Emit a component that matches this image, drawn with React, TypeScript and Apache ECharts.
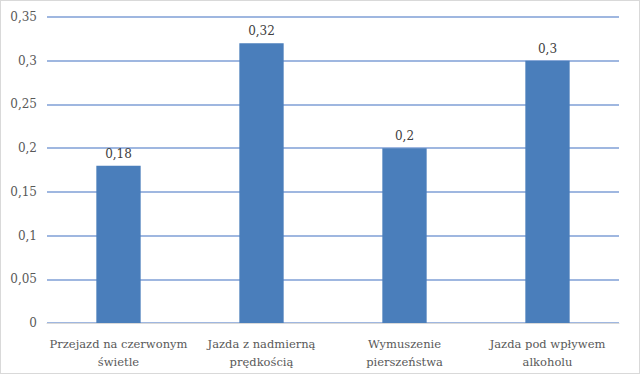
import React, { useEffect, useRef } from "react";
import * as echarts from "echarts";

const categories = ["Przejazd na czerwonym\nświetle", "Jazda z nadmierną\nprędkością", "Wymuszenie\npierszeństwa", "Jazda pod wpływem\nalkoholu"];
const values = [0.18, 0.32, 0.2, 0.3];

const fmt = (v: number) => String(v).replace(".", ",");
const FONT = "DejaVu Serif";

export default function App() {
  const ref = useRef<HTMLDivElement>(null);
  useEffect(() => {
    const chart = echarts.init(ref.current!, null, { renderer: "svg" });
    chart.setOption({
      animation: false,
      backgroundColor: "#ffffff",
      textStyle: { fontFamily: FONT },
      grid: { left: 46, right: 20, top: 16, bottom: 50, containLabel: false },
      xAxis: {
        type: "category",
        data: categories,
        axisTick: { show: false },
        axisLine: { lineStyle: { color: "#d9d9d9", width: 1 } },
        axisLabel: { color: "#595959", fontSize: 11.5, fontFamily: FONT, margin: 12, lineHeight: 18, interval: 0 },
      },
      yAxis: {
        type: "value",
        min: 0,
        max: 0.35,
        interval: 0.05,
        axisLine: { show: false },
        axisTick: { show: false },
        axisLabel: { color: "#595959", fontSize: 12, fontFamily: FONT, margin: 10, formatter: (v: number) => fmt(Math.round(v * 100) / 100) },
        splitLine: { lineStyle: { color: "#7f9fd6", width: 1.5 } },
      },
      series: [
        {
          type: "bar",
          data: values,
          barWidth: "31%",
          itemStyle: { color: "#4a7ebb" },
          label: { show: true, position: "top", color: "#404040", fontSize: 12, fontFamily: FONT, distance: 6, formatter: (p: any) => fmt(p.value) },
        },
      ],
    });
    return () => chart.dispose();
  }, []);
  return (
    <div style={{ position: "absolute", left: 0, top: 0, width: 640, height: 374, boxSizing: "border-box", border: "1px solid #d9d9d9" }}>
      <div ref={ref} style={{ width: 638, height: 372 }} />
    </div>
  );
}
